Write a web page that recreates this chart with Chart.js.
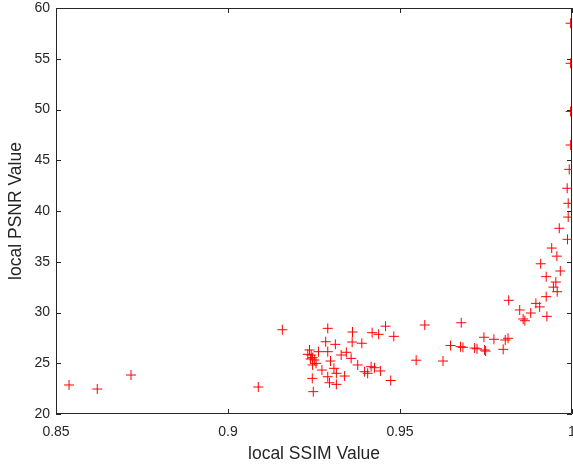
<!DOCTYPE html>
<html>
<head>
<meta charset="utf-8">
<title>local SSIM vs local PSNR</title>
<script src="https://cdn.jsdelivr.net/npm/chart.js@4/dist/chart.umd.min.js"></script>
<style>
  html, body { margin: 0; padding: 0; background: #fff; }
  #wrap { width: 573px; height: 468px; }
</style>
</head>
<body>
<div id="wrap"><canvas id="scatter"></canvas></div>
<script>
// local SSIM / local PSNR pairs, one entry per block
const ssim = [
  0.8538, 0.8620, 0.8718, 0.9088, 0.9158,
  0.9290, 0.9362, 0.9419, 0.9438, 0.9458, 0.9482,
  0.9284, 0.9312, 0.9361, 0.9389,
  0.9237, 0.9232, 0.9242, 0.9246, 0.9240, 0.9251,
  0.9263, 0.9290, 0.9256, 0.9246,
  0.9298, 0.9329, 0.9344, 0.9358,
  0.9273, 0.9308, 0.9315, 0.9339, 0.9290,
  0.9295, 0.9315, 0.9245, 0.9248,
  0.9377, 0.9397, 0.9416, 0.9426, 0.9406, 0.9443, 0.9473,
  0.9547, 0.9572, 0.9625, 0.9647, 0.9678,
  0.9676, 0.9683, 0.9717, 0.9724,
  0.9744, 0.9746, 0.9749, 0.9773, 0.9800,
  0.9806, 0.9814, 0.9816,
  0.9848, 0.9858, 0.9863, 0.9880,
  0.9895, 0.9906, 0.9927, 0.9925,
  0.9909, 0.9925, 0.9953, 0.9946, 0.9957,
  0.9966, 0.9941, 0.9956,
  0.9963, 0.9987, 0.9989, 0.9989, 0.9986, 0.9992, 0.9996, 0.9996, 0.9996, 0.9996
];
const psnr = [
  22.86, 22.46, 23.84, 22.66, 28.30,
  28.44, 28.08, 28.01, 27.85, 28.65, 27.65,
  27.12, 26.86, 27.09, 26.97,
  26.31, 25.88, 25.81, 25.55, 25.42, 25.32,
  26.14, 26.14, 24.99, 24.83,
  25.22, 25.81, 26.08, 25.48,
  24.33, 24.50, 24.01, 23.74, 23.67,
  23.08, 22.92, 23.51, 22.20,
  24.83, 24.17, 24.66, 24.56, 24.01, 24.24, 23.30,
  25.30, 28.77, 25.22, 26.75, 28.99,
  26.63, 26.57, 26.50, 26.42,
  27.56, 26.31, 26.20, 27.36, 26.37,
  27.29, 27.46, 31.20,
  30.25, 29.36, 29.19, 29.95,
  30.90, 30.55, 29.62, 31.56,
  34.80, 33.53, 33.00, 32.50, 32.05,
  34.09, 36.35, 35.55,
  38.30, 37.21, 39.40, 40.76, 42.24, 44.10, 46.50, 49.80, 54.55, 58.50
];
const xTicks = [0.85, 0.9, 0.95, 1];
const yTicks = [20, 25, 30, 35, 40, 45, 50, 55, 60];

const axisColor = '#262626';
const fontFamily = '"Liberation Sans", Arial, Helvetica, sans-serif';

// matlab-style box with inward tick marks on all four sides
const boxPlugin = {
  id: 'box',
  beforeDatasetsDraw(chart) {
    const { ctx, chartArea: a, scales } = chart;
    const len = 5;
    ctx.save();
    ctx.strokeStyle = axisColor;
    ctx.lineWidth = 1;
    ctx.beginPath();
    ctx.rect(a.left + 0.5, a.top + 0.5, a.right - a.left - 1, a.bottom - a.top - 1);
    xTicks.forEach(v => {
      const px = Math.round(scales.x.getPixelForValue(v)) + 0.5;
      ctx.moveTo(px, a.bottom); ctx.lineTo(px, a.bottom - len);
      ctx.moveTo(px, a.top); ctx.lineTo(px, a.top + len);
    });
    yTicks.forEach(v => {
      const py = Math.round(scales.y.getPixelForValue(v)) + 0.5;
      ctx.moveTo(a.left, py); ctx.lineTo(a.left + len, py);
      ctx.moveTo(a.right, py); ctx.lineTo(a.right - len, py);
    });
    ctx.stroke();
    ctx.restore();
  }
};

new Chart(document.getElementById('scatter'), {
  type: 'scatter',
  data: {
    datasets: [{
      data: ssim.map((s, i) => ({ x: s, y: psnr[i] })),
      pointStyle: 'cross',
      pointRadius: 5,
      pointHoverRadius: 5,
      borderColor: '#ff0000',
      backgroundColor: '#ff0000',
      borderWidth: 1,
      clip: 0
    }]
  },
  options: {
    responsive: true,
    maintainAspectRatio: false,
    animation: false,
    devicePixelRatio: 1,
    layout: { autoPadding: false, padding: { top: 8, right: 1, left: 0, bottom: 0 } },
    plugins: { legend: { display: false }, tooltip: { enabled: false } },
    scales: {
      x: {
        type: 'linear',
        min: 0.85,
        max: 1,
        afterBuildTicks: s => { s.ticks = xTicks.map(v => ({ value: v })); },
        afterFit: s => { s.height = 54; s.paddingLeft = 0; s.paddingRight = 0; },
        grid: { display: false, drawTicks: false },
        border: { display: false },
        ticks: {
          color: axisColor,
          padding: 10,
          maxRotation: 0,
          autoSkip: false,
          font: { family: fontFamily, size: 14 },
          callback: v => String(v)
        },
        title: {
          display: true,
          text: 'local SSIM Value',
          color: axisColor,
          padding: { top: 0, bottom: 3 },
          font: { family: fontFamily, size: 17.5 }
        }
      },
      y: {
        type: 'linear',
        min: 20,
        max: 60,
        afterBuildTicks: s => { s.ticks = yTicks.map(v => ({ value: v })); },
        afterFit: s => { s.width = 56; s.paddingTop = 0; s.paddingBottom = 0; },
        grid: { display: false, drawTicks: false },
        border: { display: false },
        ticks: {
          color: axisColor,
          padding: 6,
          autoSkip: false,
          font: { family: fontFamily, size: 14 },
          callback: v => String(v)
        },
        title: {
          display: true,
          text: 'local PSNR Value',
          color: axisColor,
          padding: { top: 6, bottom: 0 },
          font: { family: fontFamily, size: 17.5 }
        }
      }
    }
  },
  plugins: [boxPlugin]
});
</script>
</body>
</html>
